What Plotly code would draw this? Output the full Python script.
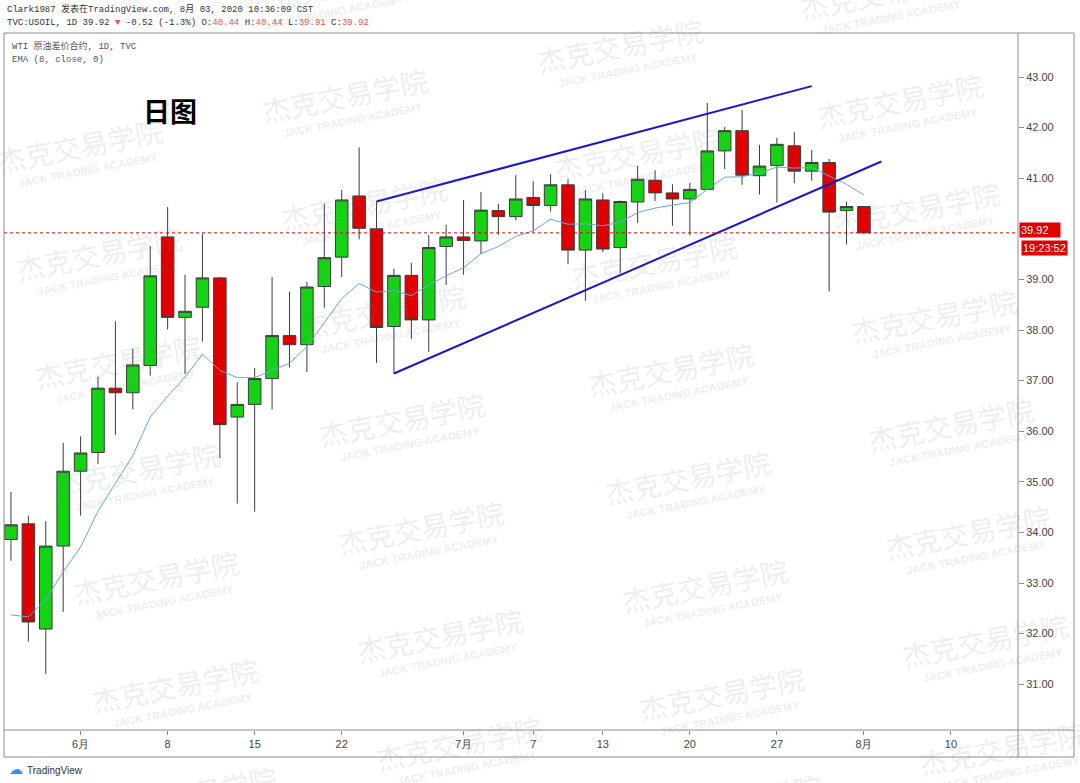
import plotly.graph_objects as go
import pandas as pd

# ---------------- data ----------------
dates = [
    "2020-05-26", "2020-05-27", "2020-05-28", "2020-05-29",
    "2020-06-01", "2020-06-02", "2020-06-03", "2020-06-04", "2020-06-05",
    "2020-06-08", "2020-06-09", "2020-06-10", "2020-06-11", "2020-06-12",
    "2020-06-15", "2020-06-16", "2020-06-17", "2020-06-18", "2020-06-19",
    "2020-06-22", "2020-06-23", "2020-06-24", "2020-06-25", "2020-06-26",
    "2020-06-29", "2020-06-30", "2020-07-01", "2020-07-02", "2020-07-03",
    "2020-07-06", "2020-07-07", "2020-07-08", "2020-07-09", "2020-07-10",
    "2020-07-13", "2020-07-14", "2020-07-15", "2020-07-16", "2020-07-17",
    "2020-07-20", "2020-07-21", "2020-07-22", "2020-07-23", "2020-07-24",
    "2020-07-27", "2020-07-28", "2020-07-29", "2020-07-30", "2020-07-31",
    "2020-08-03",
]
opens = [33.86, 34.17, 32.09, 33.73, 35.21, 35.58, 36.85, 36.76, 37.30,
         39.84, 38.25, 38.45, 39.03, 36.28, 36.53, 37.04, 37.89, 37.71, 38.86,
         39.44, 40.65, 40.00, 38.07, 39.08, 38.20, 39.65, 39.84, 39.76, 40.36,
         40.24, 40.62, 40.46, 40.87, 39.58, 40.57, 39.63, 40.53, 40.96, 40.71,
         40.59, 40.78, 41.54, 41.94, 41.05, 41.25, 41.64, 41.14, 41.31, 40.36,
         40.44]
highs = [34.80, 34.33, 34.22, 35.77, 35.90, 37.08, 38.17, 37.63, 39.66,
         40.43, 39.09, 39.90, 39.05, 36.97, 37.25, 39.05, 38.76, 38.95, 40.50,
         40.77, 41.61, 40.54, 39.21, 39.33, 39.88, 40.08, 40.57, 40.73, 40.49,
         41.06, 40.94, 41.08, 40.98, 40.77, 40.70, 40.56, 41.24, 41.16, 40.88,
         40.91, 42.49, 42.01, 42.35, 41.66, 41.80, 41.91, 41.56, 41.38, 40.54,
         40.44]
lows = [33.44, 31.84, 31.20, 32.43, 34.33, 35.35, 35.93, 36.43, 37.10,
        38.01, 37.13, 37.77, 35.47, 34.57, 34.41, 36.43, 37.26, 37.17, 38.44,
        39.05, 39.79, 37.35, 37.14, 37.82, 37.57, 38.89, 39.09, 39.50, 39.88,
        40.17, 39.94, 40.34, 39.30, 38.58, 39.54, 39.12, 40.12, 40.55, 40.06,
        39.87, 40.77, 41.18, 40.87, 40.68, 40.52, 40.90, 40.95, 38.76, 39.69,
        39.91]
closes = [34.15, 32.23, 33.73, 35.21, 35.57, 36.85, 36.76, 37.31, 39.07,
          38.25, 38.37, 39.03, 36.13, 36.53, 37.04, 37.89, 37.71, 38.85, 39.43,
          40.57, 40.01, 38.05, 39.08, 38.20, 39.63, 39.84, 39.77, 40.37, 40.24,
          40.59, 40.46, 40.87, 39.58, 40.59, 39.60, 40.54, 40.98, 40.71, 40.59,
          40.78, 41.54, 41.94, 41.06, 41.24, 41.67, 41.14, 41.31, 40.33, 40.44,
          39.92]
ema8 = [32.37, 32.33, 32.67, 33.22, 33.71, 34.42, 34.97, 35.52, 36.28,
        36.69, 37.07, 37.52, 37.20, 37.06, 37.06, 37.20, 37.34, 37.67, 38.15,
        38.62, 38.92, 38.75, 38.78, 38.68, 38.89, 39.07, 39.23, 39.51, 39.65,
        39.85, 39.96, 40.19, 40.09, 40.10, 40.06, 40.13, 40.32, 40.41, 40.47,
        40.52, 40.78, 41.02, 41.03, 41.10, 41.22, 41.20, 41.21, 41.04, 40.88,
        40.67]

trend_upper_dates = ["2020-06-24", "2020-07-29"]
trend_upper_prices = [40.54, 42.82]
trend_lower_dates = ["2020-06-25", "2020-08-04"]
trend_lower_prices = [37.14, 41.33]

last_price = 39.92
countdown = "19:23:52"

tick_dates = ["2020-06-01", "2020-06-08", "2020-06-15", "2020-06-22", "2020-07-01",
              "2020-07-07", "2020-07-13", "2020-07-20", "2020-07-27", "2020-08-03",
              "2020-08-10"]
tick_labels = ["6月", "8", "15", "22", "7月", "7", "13", "20", "27", "8月", "10"]
# 40.00 is hidden behind the last-price label in the reference
price_ticks = [31, 32, 33, 34, 35, 36, 37, 38, 39, 41, 42, 43]

header_1 = "Clark1987 发表在TradingView.com, 8月 03, 2020 10:36:09 CST"
symbol_line = "TVC:USOIL, 1D"
change_text = "-0.52 (-1.3%)"
legend_1 = "WTI 原油差价合约, 1D, TVC"
legend_2 = "EMA (8, close, 0)"
title_text = "日图"
wm_cn = "杰克交易学院"
wm_en = "JACK TRADING ACADEMY"

# ---------------- geometry helpers ----------------
W, H = 1080, 783
ML, MR, MT, MB = 4, 62, 33, 53
PW, PH = W - ML - MR, H - MT - MB


def px(x):
    return (x - ML) / PW


def py(y):
    return (H - MB - y) / PH


NOON = pd.Timedelta(hours=12)
xd = pd.to_datetime(dates) + NOON

RED = "#e00000"
GREEN = "#14d214"
EDGE = "#3c3c3c"
FRAME = "#8c8c8c"
MONO = "Liberation Mono, Noto Sans CJK SC, monospace"

fig = go.Figure()

fig.add_trace(go.Candlestick(
    x=xd, open=opens, high=highs, low=lows, close=closes,
    increasing=dict(fillcolor=GREEN, line=dict(color=EDGE, width=1)),
    decreasing=dict(fillcolor=RED, line=dict(color=EDGE, width=1)),
    whiskerwidth=0, hoverinfo="x+y", showlegend=False,
))

fig.add_trace(go.Scatter(
    x=xd, y=ema8, mode="lines",
    line=dict(color="#6aa6e0", width=1), hoverinfo="skip", showlegend=False,
))

for tdates, tprices in ((trend_upper_dates, trend_upper_prices),
                        (trend_lower_dates, trend_lower_prices)):
    fig.add_trace(go.Scatter(
        x=pd.to_datetime(tdates) + NOON, y=tprices, mode="lines",
        line=dict(color="#1818d0", width=2), hoverinfo="skip", showlegend=False,
    ))

shapes = []
# last price dotted line
shapes.append(dict(type="line", xref="paper", yref="y", x0=0, x1=1,
                   y0=last_price, y1=last_price,
                   line=dict(color=RED, width=1, dash="dot")))
# frame
right_edge = px(1074)
bottom_edge = py(757)
for (x0, y0, x1, y1) in [
    (0, 1, right_edge, 1),
    (0, bottom_edge, right_edge, bottom_edge),
    (0, 1, 0, bottom_edge),
    (right_edge, 1, right_edge, bottom_edge),
    (1, 1, 1, bottom_edge),
    (0, 0, right_edge, 0),
]:
    shapes.append(dict(type="line", xref="paper", yref="paper",
                       x0=x0, y0=y0, x1=x1, y1=y1,
                       line=dict(color=FRAME, width=1)))

annotations = []
# watermarks
columns = [
    ((80, 145), 19, range(0, 7)),
    ((345, 95), 19, range(-1, 7)),
    ((620, 45), 17, range(0, 8)),
    ((900, 100), 17, range(-1, 7)),
]
WM = "rgba(120,120,120,0.15)"
for (bx, by), sx, rows in columns:
    for k in rows:
        cx, cy = bx + sx * k, by + 108 * k
        annotations.append(dict(
            text=wm_cn, x=px(cx), y=py(cy), xref="paper", yref="paper",
            xanchor="center", yanchor="middle",
            showarrow=False, textangle=-11,
            font=dict(family="Noto Sans CJK SC", size=28, color=WM)))
        annotations.append(dict(
            text=wm_en, x=px(cx + 8), y=py(cy + 25), xref="paper", yref="paper",
            xanchor="center", yanchor="middle",
            showarrow=False, textangle=-11,
            font=dict(family="Liberation Sans", size=11, color=WM, weight="bold")))

# header
annotations.append(dict(
    text=header_1, x=px(5), y=py(9), xref="paper", yref="paper",
    xanchor="left", yanchor="middle", showarrow=False,
    font=dict(family=MONO, size=9, color="#333333")))
LR = "#ef5350"
line2 = (f"{symbol_line} {closes[-1]:.2f} <span style='color:{LR}'>▼</span> {change_text} "
         f"O:<span style='color:{LR}'>{opens[-1]:.2f}</span> "
         f"H:<span style='color:{LR}'>{highs[-1]:.2f}</span> "
         f"L:<span style='color:{LR}'>{lows[-1]:.2f}</span> "
         f"C:<span style='color:{LR}'>{closes[-1]:.2f}</span>")
annotations.append(dict(
    text=line2, x=px(5), y=py(23), xref="paper", yref="paper",
    xanchor="left", yanchor="middle", showarrow=False,
    font=dict(family=MONO, size=9, color="#333333")))
for txt, yy in ((legend_1, 46), (legend_2, 60)):
    annotations.append(dict(
        text=txt, x=px(10), y=py(yy), xref="paper", yref="paper",
        xanchor="left", yanchor="middle", showarrow=False,
        font=dict(family=MONO, size=9, color="#555555")))

# big title
annotations.append(dict(
    text=title_text, x=px(170), y=py(110), xref="paper", yref="paper",
    xanchor="center", yanchor="middle", showarrow=False,
    font=dict(family="Noto Sans CJK SC", size=27, color="#000000", weight="bold")))

# price labels on right axis
annotations.append(dict(
    text=f"{last_price:.2f}", x=px(1019), y=py(229.5), xref="paper", yref="paper",
    xanchor="left", yanchor="middle", showarrow=False, bgcolor=RED,
    borderpad=1, width=38, align="left",
    font=dict(family="Liberation Sans", size=11, color="#ffffff")))
annotations.append(dict(
    text=countdown, x=px(1021), y=py(248), xref="paper", yref="paper",
    xanchor="left", yanchor="middle", showarrow=False, bgcolor=RED,
    borderpad=1,
    font=dict(family="Liberation Sans", size=11, color="#ffffff")))

# TradingView logo
annotations.append(dict(
    text="☁", x=px(16), y=py(769), xref="paper", yref="paper",
    xanchor="center", yanchor="middle",
    showarrow=False, font=dict(family="DejaVu Sans", size=14, color="#2e8ff0")))
annotations.append(dict(
    text="TradingView", x=px(25), y=py(770), xref="paper", yref="paper",
    xanchor="left", yanchor="middle", showarrow=False,
    font=dict(family="Liberation Sans", size=10, color="#333333")))

fig.update_layout(
    width=W, height=H,
    margin=dict(l=ML, r=MR, t=MT, b=MB, pad=0),
    paper_bgcolor="white", plot_bgcolor="white",
    showlegend=False,
    boxgap=0.28, boxgroupgap=0,
    shapes=shapes, annotations=annotations,
    font=dict(family="Liberation Sans", size=11, color="#444444"),
    hovermode=False,
)

fig.update_xaxes(
    type="date",
    range=["2020-05-26 02:24", "2020-08-14 08:24"],
    rangebreaks=[dict(bounds=["sat", "mon"])],
    rangeslider=dict(visible=False),
    tickmode="array",
    tickvals=pd.to_datetime(tick_dates) + NOON,
    ticktext=tick_labels,
    ticks="outside", ticklen=4, tickcolor=FRAME,
    showgrid=False, zeroline=False, showline=False,
    tickfont=dict(size=11, color="#444444"),
)
fig.update_yaxes(
    side="right",
    range=[30.095, 43.87],
    tickmode="array", tickvals=price_ticks,
    ticktext=[f"{v:.2f}" for v in price_ticks],
    ticks="outside", ticklen=5, tickcolor=FRAME,
    showgrid=False, zeroline=False, showline=False,
    tickfont=dict(size=11, color="#444444"),
)

fig.write_html(
    "out.html",
    config={"displayModeBar": False},
    post_script="document.body.style.margin='0';document.body.style.overflow='hidden';",
)
